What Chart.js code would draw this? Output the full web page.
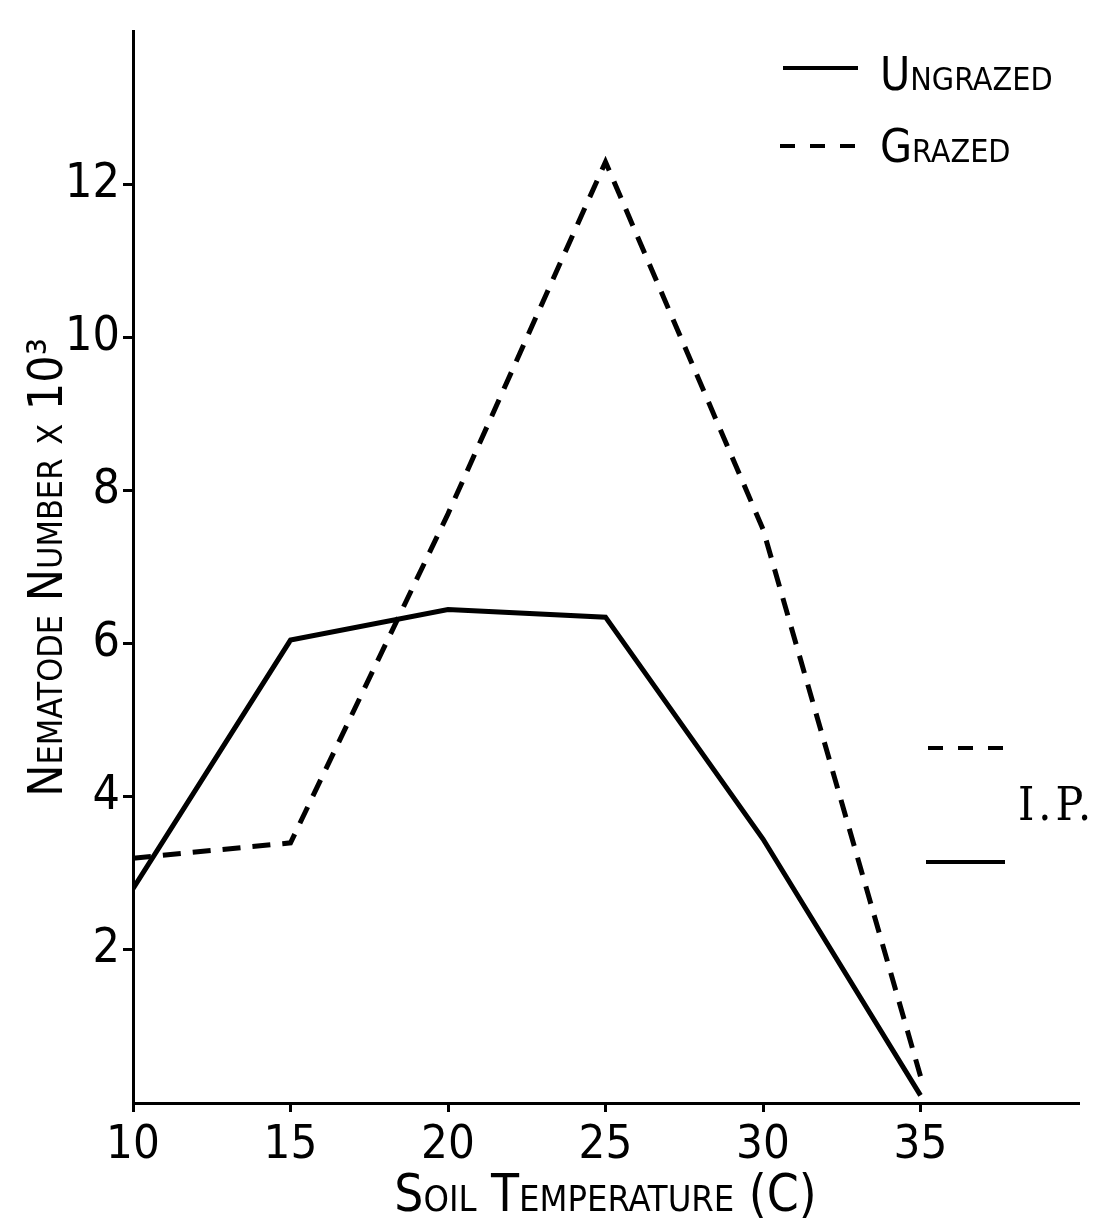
<!DOCTYPE html>
<html>
<head>
<meta charset="utf-8">
<title>Nematode number vs soil temperature</title>
<script src="https://cdn.jsdelivr.net/npm/chart.js@4.4.1/dist/chart.umd.min.js"></script>
<style>
  body { margin: 0; background: #fff; }
  canvas { display: block; }
</style>
</head>
<body>
<canvas id="chart" width="1100" height="1226"></canvas>
<script>
// values
var temperatures = [10, 15, 20, 25, 30, 35];
var ungrazed = [2.8, 6.05, 6.45, 6.35, 3.45, 0.1];
var grazed = [3.2, 3.4, 7.7, 12.3, 7.5, 0.35];
var yTicks = [2, 4, 6, 8, 10, 12];
var xTicks = [10, 15, 20, 25, 30, 35];

var FONT = '"DejaVu Sans Condensed", "Liberation Sans Narrow", "DejaVu Sans", sans-serif';

function toPoints(xs, ys) {
    return xs.map(function (x, i) { return { x: x, y: ys[i] }; });
}

// legend in the top right corner plus the I.P. key on the right edge
var keyPlugin = {
    id: 'keyPlugin',
    afterDraw: function (chart) {
        var ctx = chart.ctx;
        ctx.save();
        ctx.strokeStyle = '#000';
        ctx.fillStyle = '#000';
        ctx.lineWidth = 4;

        ctx.beginPath();
        ctx.moveTo(783, 68);
        ctx.lineTo(858, 68);
        ctx.stroke();

        ctx.setLineDash([15, 15]);
        ctx.beginPath();
        ctx.moveTo(780, 146);
        ctx.lineTo(858, 146);
        ctx.stroke();

        ctx.beginPath();
        ctx.moveTo(928, 748);
        ctx.lineTo(1006, 748);
        ctx.stroke();
        ctx.setLineDash([]);

        ctx.beginPath();
        ctx.moveTo(926, 862);
        ctx.lineTo(1005, 862);
        ctx.stroke();

        ctx.font = 'small-caps 46px ' + FONT;
        ctx.textBaseline = 'alphabetic';
        ctx.fillText('Ungrazed', 880, 90);
        ctx.fillText('Grazed', 880, 162);

        ctx.font = '46px "DejaVu Serif Condensed", "DejaVu Serif", serif';
        ctx.letterSpacing = '4px';
        ctx.fillText('I.P.', 1018, 820);
        ctx.restore();
    }
};

var ctx = document.getElementById('chart');

var myChart = new Chart(ctx, {
    type: 'line',
    data: {
        datasets: [{
            label: 'Ungrazed',
            data: toPoints(temperatures, ungrazed),
            borderColor: '#000',
            borderWidth: 5,
            pointRadius: 0,
            tension: 0,
            fill: false
        }, {
            label: 'Grazed',
            data: toPoints(temperatures, grazed),
            borderColor: '#000',
            borderWidth: 5,
            borderDash: [18, 12],
            pointRadius: 0,
            tension: 0,
            fill: false
        }]
    },
    options: {
        responsive: false,
        animation: false,
        devicePixelRatio: 1,
        layout: { padding: { top: 15, right: 22, left: 0, bottom: 0 } },
        plugins: {
            legend: { display: false },
            tooltip: { enabled: false }
        },
        scales: {
            x: {
                type: 'linear',
                min: 10,
                max: 40,
                afterBuildTicks: function (scale) {
                    scale.ticks = xTicks.map(function (v) { return { value: v }; });
                },
                afterFit: function (scale) { scale.height = 123; },
                grid: { drawOnChartArea: false, color: '#000', lineWidth: 3, tickLength: 9 },
                border: { color: '#000', width: 3 },
                ticks: {
                    color: '#000',
                    padding: 6,
                    maxRotation: 0,
                    font: { family: FONT, size: 47 }
                },
                title: {
                    display: true,
                    text: 'Soil Temperature (C)',
                    color: '#000',
                    padding: { top: 0, bottom: 3 },
                    font: { family: FONT, size: 51, weight: 'small-caps', lineHeight: 1 }
                }
            },
            y: {
                min: 0,
                max: 14,
                afterBuildTicks: function (scale) {
                    scale.ticks = yTicks.map(function (v) { return { value: v }; });
                },
                afterFit: function (scale) { scale.width = 133; },
                grid: { drawOnChartArea: false, color: '#000', lineWidth: 3, tickLength: 10 },
                border: { color: '#000', width: 3 },
                ticks: {
                    color: '#000',
                    padding: 3,
                    font: { family: FONT, size: 48 }
                },
                title: {
                    display: true,
                    text: 'Nematode Number x 10\u00b3',
                    color: '#000',
                    padding: { top: 26, bottom: 0 },
                    font: { family: FONT, size: 48, weight: 'small-caps', lineHeight: 1 }
                }
            }
        }
    },
    plugins: [keyPlugin]
});
</script>
</body>
</html>
